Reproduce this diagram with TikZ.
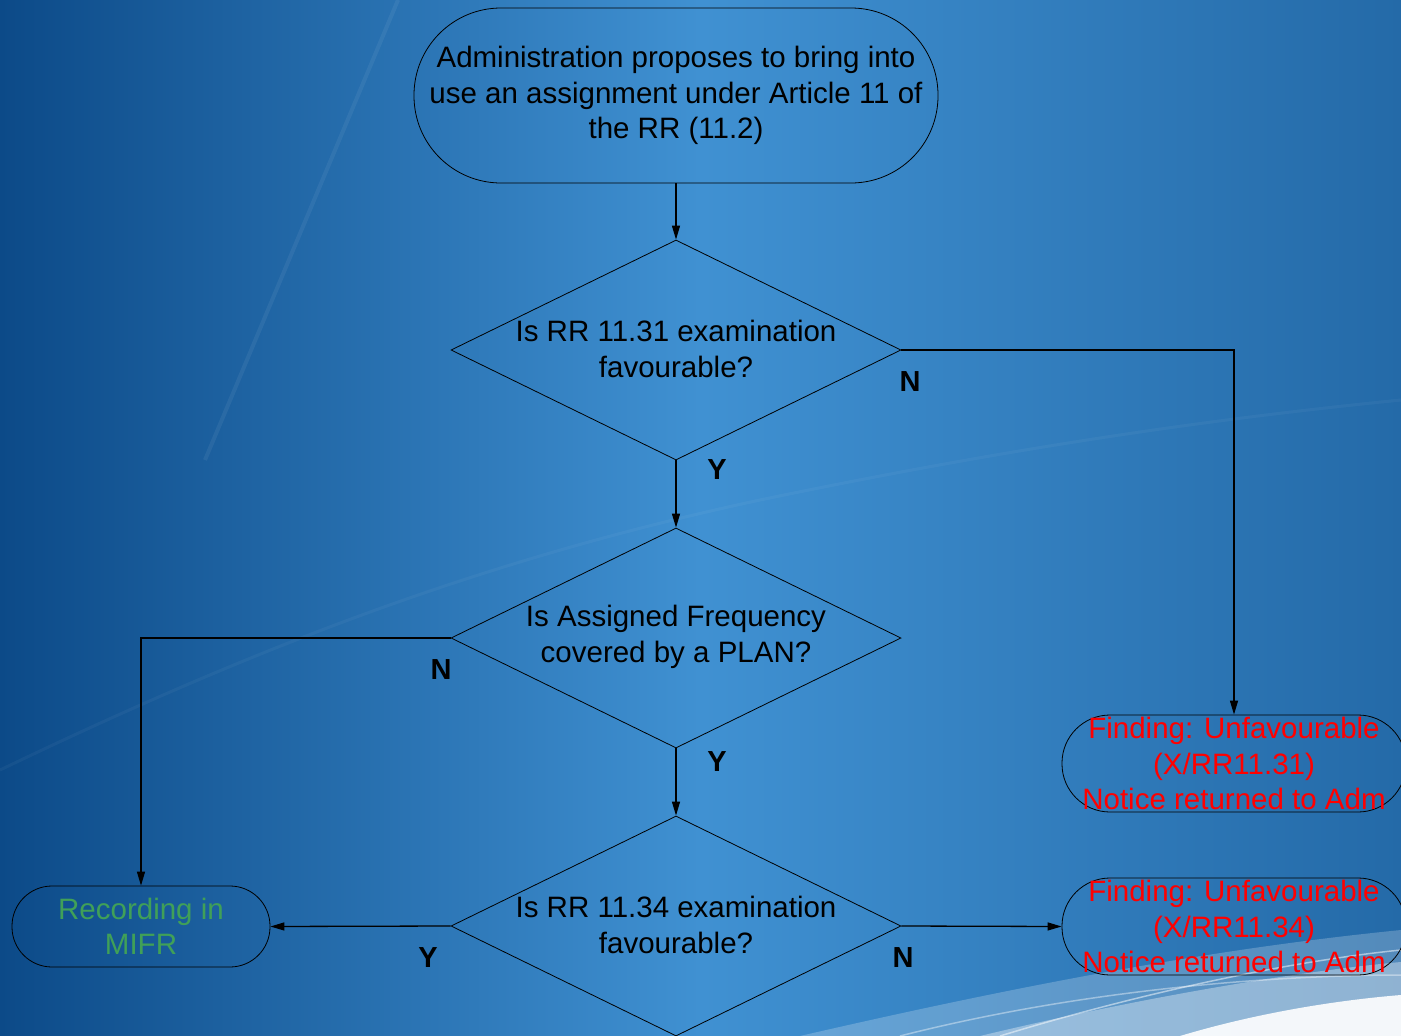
\documentclass[tikz,border=0pt]{standalone}
\usepackage{fontspec}
\setmainfont{Liberation Sans}
\usetikzlibrary{arrows.meta,shapes.geometric}
\definecolor{bgleft}{RGB}{12,74,136}
\definecolor{bgmid}{RGB}{64,145,210}
\definecolor{bgright}{RGB}{36,106,168}
\definecolor{okgreen}{RGB}{64,160,88}
\definecolor{badred}{RGB}{255,0,0}
\begin{document}
\begin{tikzpicture}[x=1pt,y=-1pt,
  base/.style={font=\fontsize{29.5}{35.5}\selectfont, align=center},
  termbox/.style={draw=black, line width=0.8pt, inner sep=0pt, base},
  dia/.style={draw=black, line width=0.8pt, diamond, minimum width=450pt, minimum height=220pt, inner sep=0pt},
  conn/.style={draw=black, line width=1.3pt, -{Triangle[length=14pt,width=8pt]}},
  yn/.style={font=\fontsize{29}{30}\selectfont\bfseries, text=black}
]
% background
\useasboundingbox (0,0) rectangle (1401,1036);
\shade[left color=bgleft, right color=bgright, middle color=bgmid] (0,0) rectangle (1401,1036);
\draw[white, opacity=0.06, line width=4pt] (398,0) -- (205,460);
\draw[white, opacity=0.04, line width=3pt] (0,770) .. controls (250,650) and (480,560) .. (760,500) .. controls (1000,450) and (1200,420) .. (1401,400);
\fill[white, opacity=0.22] (800,1036) .. controls (1000,990) and (1200,950) .. (1401,930) -- (1401,1036) -- cycle;
\fill[white, opacity=0.35] (980,1036) .. controls (1130,1000) and (1290,972) .. (1401,962) -- (1401,1036) -- cycle;
\fill[white, opacity=0.9] (1180,1036) .. controls (1260,1012) and (1340,1000) .. (1401,995) -- (1401,1036) -- cycle;
\draw[white, opacity=0.5, line width=1.5pt] (1000,1036) .. controls (1150,990) and (1300,960) .. (1401,950);
\draw[white, opacity=0.4, line width=1.5pt] (900,1036) .. controls (1100,985) and (1300,975) .. (1401,975);

% nodes
\node[termbox, rounded corners=87pt, minimum width=524pt, minimum height=175pt] (start) at (676,95.5)
  {Administration proposes to bring into\\use an assignment under Article 11 of\\the RR (11.2)};

\node[dia] (d1) at (676,350) {};
\node[base] (d1t) at (676,349) {Is RR 11.31 examination\\favourable?};

\node[dia] (d2) at (676,638) {};
\node[base] (d2t) at (676,637) {Is Assigned Frequency\\covered by a PLAN?};

\node[dia] (d3) at (676,926) {};
\node[base] (d3t) at (676,925) {Is RR 11.34 examination\\favourable?};

\node[termbox, rounded corners=40pt, minimum width=258pt, minimum height=81pt, text=okgreen] (rec) at (141,926.5)
  {Recording in\\MIFR};

\node[termbox, rounded corners=48pt, minimum width=344pt, minimum height=97pt, text=badred] (f1) at (1234,763.5)
  {Finding: Unfavourable\\(X/RR11.31)\\Notice returned to Adm};

\node[termbox, rounded corners=48pt, minimum width=344pt, minimum height=97pt, text=badred] (f2) at (1234,926.5)
  {Finding: Unfavourable\\(X/RR11.34)\\Notice returned to Adm};

% connectors
\draw[conn] (start.south) -- (d1.north);
\draw[conn] (d1.south) -- (d2.north);
\draw[conn] (d1.east) -- (d1.east -| f1.north) -- (f1.north);
\draw[conn] (d2.west) -- (d2.west -| rec.north) -- (rec.north);
\draw[conn] (d2.south) -- (d3.north);
\draw[conn] (d3.west) -- (rec.east);
\draw[conn] (d3.east) -- (f2.west);

% labels
\node[yn] (n1) at (910,382) {N};
\node[yn] (y1) at (717,470) {Y};
\node[yn] (n2) at (441,670) {N};
\node[yn] (y2) at (717,762) {Y};
\node[yn] (y3) at (428,958) {Y};
\node[yn] (n3) at (903,958) {N};
\end{tikzpicture}
\end{document}
